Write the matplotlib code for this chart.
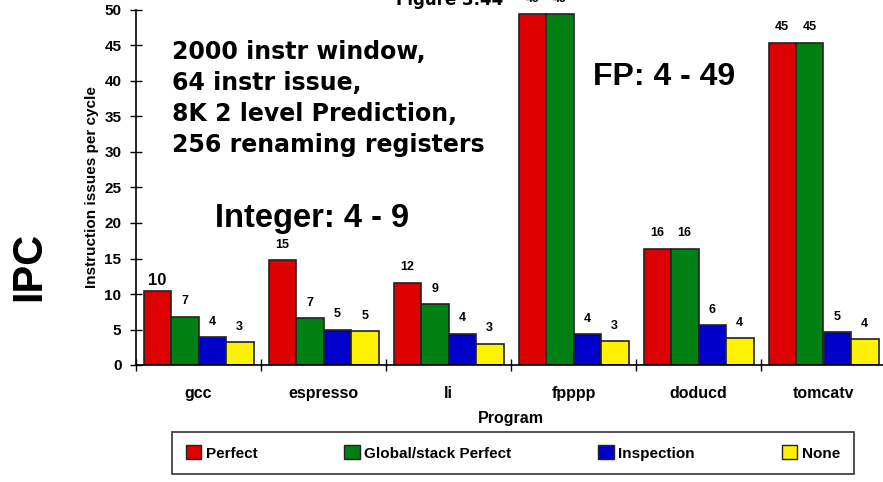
import numpy as np
import matplotlib.pyplot as plt
from matplotlib.patches import Patch

plt.rcParams['font.family'] = ['Liberation Sans', 'DejaVu Sans']
plt.rcParams['font.weight'] = 'bold'

# IPC per program for each alias-analysis model
programs = ['gcc', 'espresso', 'li', 'fpppp', 'doducd', 'tomcatv']
series = ['Perfect', 'Global/stack Perfect', 'Inspection', 'None']
perfect = [10.4, 14.8, 11.6, 49.4, 16.4, 45.4]
global_stack = [6.8, 6.6, 8.6, 49.4, 16.4, 45.4]
inspection = [3.9, 5.0, 4.4, 4.3, 5.6, 4.6]
none = [3.2, 4.8, 3.0, 3.4, 3.8, 3.6]
colors = ['#DD0000', '#008013', '#0000CC', '#FFF200']

fig = plt.figure(figsize=(8.83, 4.82), dpi=100)
ax = fig.add_axes([136/883, 1 - 365/482, 750/883, 355/482])

x = np.arange(len(programs))
w = 0.22
for i, (vals, c) in enumerate(zip([perfect, global_stack, inspection, none], colors)):
    pos = x + (i - 1.5) * w
    ax.bar(pos, vals, width=w, color=c, edgecolor='#222222', linewidth=1.2, label=series[i])
    for j, (p, v) in enumerate(zip(pos, vals)):
        big = (i == 0 and j == 0)
        ax.annotate('%.0f' % v, (p, v), xytext=(0, 8 if big else 11),
                    textcoords='offset points', ha='center', va='center',
                    fontsize=12 if big else 9, fontweight='bold',
                    annotation_clip=False)

ax.set_xlim(-0.5, 5.5)
ax.set_ylim(0, 50)
ax.set_yticks(np.arange(0, 51, 5))
ax.set_xticks(x)
ax.set_xticklabels(programs, fontsize=11.5, fontweight='bold')
ax.set_xticks(np.arange(-0.5, 6, 1), minor=True)
ax.tick_params(axis='x', which='major', length=0, pad=15)
ax.tick_params(axis='x', which='minor', direction='inout', length=9, width=1)
ax.tick_params(axis='y', direction='inout', length=9, width=1, labelsize=11, pad=6)
for lab in ax.get_yticklabels():
    lab.set_fontweight('bold')
for s in ['top', 'right']:
    ax.spines[s].set_visible(False)
ax.spines['left'].set_linewidth(1.2)
ax.spines['bottom'].set_linewidth(1.2)

ax.set_xlabel('Program', fontsize=11.5, fontweight='bold', labelpad=7)
ax.set_ylabel('Instruction issues per cycle', fontsize=11, fontweight='bold', labelpad=4)

# annotations
fig.text(172/883, 1 - 40/482,
         '2000 instr window,\n64 instr issue,\n8K 2 level Prediction,\n256 renaming registers',
         fontsize=17, fontweight='bold', family='DejaVu Sans', va='top', linespacing=1.37)
fig.text(312/883, 1 - 218/482, 'Integer: 4 - 9', fontsize=23.5, fontweight='bold',
         ha='center', va='center')
fig.text(664/883, 1 - 77/482, 'FP: 4 - 49', fontsize=23, fontweight='bold',
         ha='center', va='center')
fig.text(450/883, 1.0, 'Figure 3.44', fontsize=12, fontweight='bold',
         family='DejaVu Sans', ha='center', va='center')
fig.text(29/883, 1 - 266/482, 'IPC', fontsize=30, fontweight='bold',
         rotation=90, ha='center', va='center')

handles = [Patch(facecolor=c, edgecolor='#222222', linewidth=1.0) for c in colors]
leg = fig.legend(handles, series, loc='center', ncol=4,
                 bbox_to_anchor=(513/883, 1 - 453/482),
                 prop={'weight': 'bold', 'size': 11},
                 frameon=True, fancybox=False, edgecolor='black',
                 handlelength=1.0, handleheight=1.0, handletextpad=0.3,
                 columnspacing=5.7, borderpad=0.9, borderaxespad=0)
leg.get_frame().set_linewidth(1.2)

fig.savefig('out.png', dpi=100)
